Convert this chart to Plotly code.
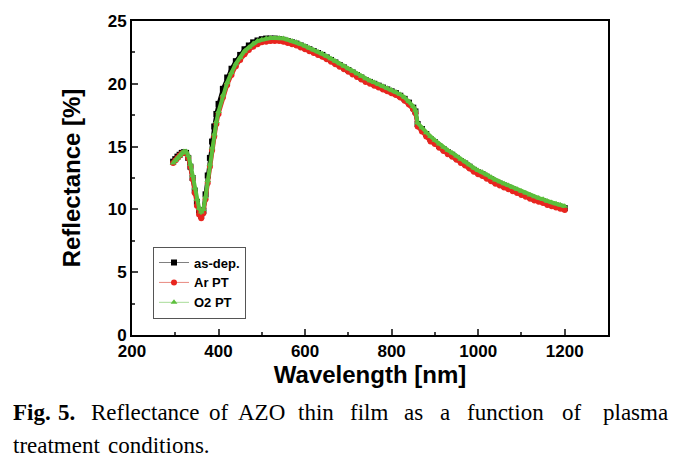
import plotly.graph_objects as go

wavelength = [295, 300, 305, 310, 315, 320, 325, 330, 335, 340, 345, 350, 355, 360, 365,
              370, 375, 380, 385, 390, 395, 400, 410, 420, 430, 440, 450, 460, 470, 480,
              490, 500, 510, 520, 530, 540, 550, 560, 570, 580, 590, 600, 610, 620, 630,
              640, 650, 660, 670, 680, 690, 700, 710, 720, 730, 740, 750, 760, 770, 780,
              790, 800, 810, 820, 830, 840, 850, 855, 860, 870, 880, 890, 900, 910, 920,
              930, 940, 950, 960, 970, 980, 990, 1000, 1010, 1020, 1030, 1040, 1050, 1060,
              1070, 1080, 1090, 1100, 1110, 1120, 1130, 1140, 1150, 1160, 1170, 1180, 1190, 1200]

as_dep = [13.8, 14.0, 14.2, 14.35, 14.5, 14.55, 14.5, 14.1, 13.4, 12.5, 11.5, 10.6, 9.9, 9.5, 9.9,
          11.2, 12.7, 14.1, 15.4, 16.6, 17.6, 18.4, 19.6, 20.5, 21.2, 21.8, 22.3, 22.75, 23.05, 23.3,
          23.45, 23.55, 23.6, 23.6, 23.6, 23.55, 23.5, 23.4, 23.3, 23.2, 23.05, 22.9, 22.75, 22.6, 22.45,
          22.3, 22.1, 21.9, 21.7, 21.5, 21.3, 21.1, 20.9, 20.7, 20.5, 20.3, 20.15, 20.0, 19.85, 19.7,
          19.55, 19.4, 19.25, 19.05, 18.8, 18.5, 18.1, 17.8, 16.8, 16.4, 16.0, 15.6, 15.35, 15.05, 14.8,
          14.55, 14.35, 14.1, 13.85, 13.65, 13.4, 13.15, 12.95, 12.8, 12.6, 12.4, 12.2, 12.05, 11.9,
          11.75, 11.6, 11.45, 11.3, 11.15, 11.0, 10.85, 10.75, 10.65, 10.5, 10.4, 10.3, 10.2, 10.1]

ar_pt = [13.7, 13.9, 14.1, 14.3, 14.45, 14.5, 14.45, 14.1, 13.4, 12.4, 11.3, 10.3, 9.6, 9.3, 9.7,
         10.8, 12.1, 13.4, 14.7, 15.8, 16.8, 17.6, 18.9, 19.9, 20.7, 21.4, 21.9, 22.35, 22.7, 22.95,
         23.15, 23.3, 23.35, 23.4, 23.4, 23.4, 23.35, 23.25, 23.15, 23.05, 22.9, 22.75, 22.6, 22.45, 22.3,
         22.15, 21.95, 21.75, 21.55, 21.35, 21.15, 20.95, 20.75, 20.55, 20.35, 20.15, 20.0, 19.85, 19.7, 19.55,
         19.4, 19.25, 19.1, 18.9, 18.65, 18.35, 17.95, 17.65, 16.6, 16.2, 15.8, 15.4, 15.2, 14.9, 14.65,
         14.4, 14.2, 13.95, 13.7, 13.5, 13.25, 13.0, 12.8, 12.65, 12.45, 12.25, 12.05, 11.9, 11.75,
         11.6, 11.45, 11.3, 11.15, 11.0, 10.85, 10.7, 10.6, 10.5, 10.35, 10.25, 10.15, 10.05, 9.95]

o2_pt = [13.7, 13.9, 14.1, 14.3, 14.5, 14.6, 14.6, 14.3, 13.6, 12.7, 11.7, 10.8, 10.1, 9.8, 10.0,
         11.0, 12.3, 13.6, 14.9, 16.0, 17.0, 17.8, 19.1, 20.1, 20.9, 21.6, 22.1, 22.6, 22.9, 23.2,
         23.4, 23.5, 23.6, 23.65, 23.65, 23.65, 23.6, 23.5, 23.4, 23.3, 23.15, 23.0, 22.85, 22.7, 22.55,
         22.4, 22.2, 22.0, 21.8, 21.6, 21.4, 21.2, 21.0, 20.8, 20.6, 20.4, 20.25, 20.1, 19.95, 19.8,
         19.65, 19.5, 19.35, 19.15, 18.9, 18.6, 18.2, 17.9, 16.9, 16.5, 16.1, 15.8, 15.5, 15.2, 14.95,
         14.7, 14.5, 14.25, 14.0, 13.8, 13.55, 13.3, 13.1, 12.95, 12.75, 12.55, 12.35, 12.2, 12.05,
         11.9, 11.75, 11.6, 11.45, 11.3, 11.15, 11.0, 10.9, 10.8, 10.65, 10.55, 10.45, 10.35, 10.25]

series_names = ["as-dep.", "Ar PT", "O2 PT"]
x_ticks = [200, 400, 600, 800, 1000, 1200]
y_ticks = [0, 5, 10, 15, 20, 25]

fig = go.Figure()
styles = [
    ("square", "#000000", "#808080"),
    ("circle", "#e8251f", "#e88a80"),
    ("triangle-up", "#5cbf3c", "#a8dc98"),
]
# data traces (thick band of dense markers)
for name, ys, (sym, mc, lc) in zip(series_names, [as_dep, ar_pt, o2_pt], styles):
    fig.add_trace(go.Scatter(
        x=wavelength, y=ys, name=name, mode="lines+markers", showlegend=False,
        line=dict(color=mc, width=4),
        marker=dict(symbol=sym, color=mc, size=6, line=dict(width=0)),
    ))
# legend entries (thin light line with small marker)
for name, (sym, mc, lc) in zip(series_names, styles):
    fig.add_trace(go.Scatter(
        x=[None], y=[None], name=name, mode="lines+markers",
        line=dict(color=lc, width=1),
        marker=dict(symbol=sym, color=mc, size=6, line=dict(width=0)),
    ))

L, R, T, B = 132, 71, 19, 127
W, H = 679, 462
pw, ph = W - L - R, H - T - B

def px(xp):
    return (xp - L) / pw

def py(yp):
    return (H - B - yp) / ph

tick_font = dict(family="Liberation Sans, Arial", size=17, color="black", weight="bold")
title_font = dict(family="Liberation Sans, Arial", size=24, color="black", weight="bold")
fig.update_layout(
    width=W, height=H, margin=dict(l=L, r=R, t=T, b=B),
    plot_bgcolor="white", paper_bgcolor="white",
    showlegend=True,
    legend=dict(x=px(153), y=py(246), xanchor="left", yanchor="top",
                bordercolor="#555555", borderwidth=1, bgcolor="white",
                font=dict(family="Liberation Sans, Arial", size=13, color="black", weight="bold"),
                tracegroupgap=0, itemwidth=30, traceorder="normal"),
    xaxis=dict(range=[200, 1300], tickvals=x_ticks, ticks="inside", ticklen=6, tickwidth=2,
               showline=True, linewidth=2, linecolor="black", mirror=True, showgrid=False,
               zeroline=False, tickfont=tick_font,
               minor=dict(ticks="inside", ticklen=3, tickwidth=1.5, dtick=100, tick0=200, showgrid=False),
               title=dict(text="Wavelength [nm]", font=title_font, standoff=2)),
    yaxis=dict(range=[0, 25], tickvals=y_ticks, ticks="inside", ticklen=6, tickwidth=2,
               showline=True, linewidth=2, linecolor="black", mirror=True, showgrid=False,
               zeroline=False, tickfont=tick_font,
               minor=dict(ticks="inside", ticklen=3, tickwidth=1.5, dtick=2.5, tick0=0, showgrid=False),
               title=dict(text="Reflectance [%]", font=title_font, standoff=20)),
)

# caption (justified text in the source; words placed individually)
cap_font = dict(family="Liberation Serif, Times New Roman", size=23, color="black")
line1 = [(13, "<b>Fig.</b>"), (58, "<b>5.</b>"), (91, "Reflectance"), (209, "of"), (238, "AZO"),
         (298, "thin"), (350, "film"), (404, "as"), (440, "a"), (467, "function"), (562, "of")]
for xp, word in line1:
    fig.add_annotation(x=px(xp - 2), y=py(413), xref="paper", yref="paper", text=word,
                       showarrow=False, xanchor="left", yanchor="middle", font=cap_font)
fig.add_annotation(x=px(670), y=py(413), xref="paper", yref="paper", text="plasma",
                   showarrow=False, xanchor="right", yanchor="middle", font=cap_font)
for xp, word in [(13, "treatment"), (108, "conditions.")]:
    fig.add_annotation(x=px(xp - 2), y=py(446), xref="paper", yref="paper", text=word,
                       showarrow=False, xanchor="left", yanchor="middle", font=cap_font)

fig.write_html("out.html", config={"displayModeBar": False},
               post_script="document.body.style.margin='0';")
